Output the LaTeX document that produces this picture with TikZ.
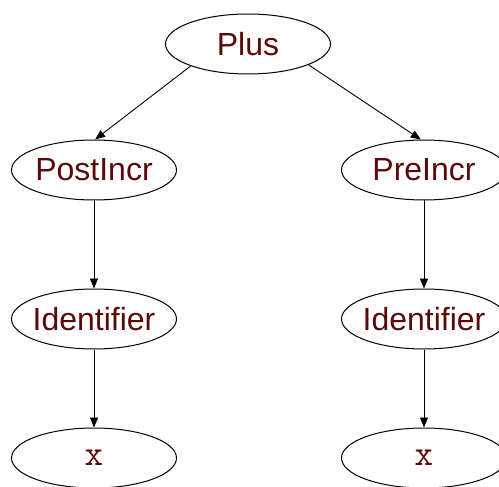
\documentclass[tikz,border=0pt]{standalone}
\usepackage{fontspec}
\setmainfont{Liberation Sans}
\usepackage{tikz}
\usetikzlibrary{positioning,arrows.meta,shapes.geometric}
\definecolor{lbl}{RGB}{92,8,8}

\begin{document}
\begin{tikzpicture}[x=1pt, y=-1pt,
  ast/.style={draw, ellipse, line width=1pt, minimum width=165pt, minimum height=60pt, inner xsep=-20pt, inner ysep=0pt, text=lbl, font=\fontsize{32}{38}\selectfont},
  var/.style={ast, font=\ttfamily\fontsize{36}{40}\selectfont},
  arr/.style={-{Triangle[length=10pt, width=8pt]}, line width=0.9pt}
]
\useasboundingbox (0,0) rectangle (499,487);
% root and operators
\node[ast] (plus) at (248,44) {Plus};
\node[ast] (post) at (94,170) {PostIncr};
\node[ast] (pre) at (424,170) {PreIncr};
% operands
\node[ast] (id1) at (94,319) {Identifier};
\node[ast] (id2) at (424,319) {Identifier};
\node[var] (x1) at (94,458) {x};
\node[var] (x2) at (424,458) {x};
\draw[arr] (plus.201) -- (post.88);
\draw[arr] (plus.341) -- (pre.96);
\draw[arr] (post) -- (id1); \draw[arr] (id1) -- (x1);
\draw[arr] (pre) -- (id2); \draw[arr] (id2) -- (x2);
\end{tikzpicture}
\end{document}
